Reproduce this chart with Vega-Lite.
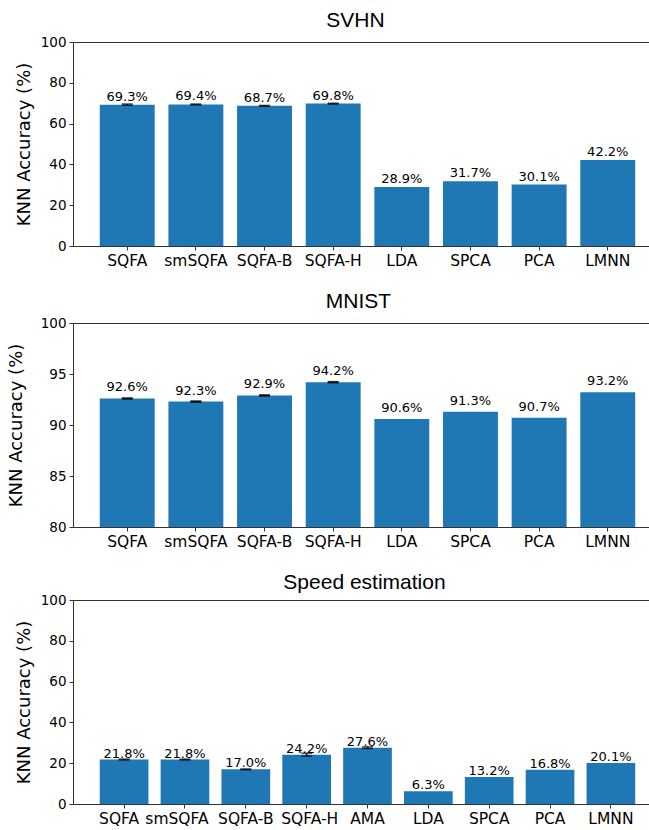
{
  "$schema": "https://vega.github.io/schema/vega-lite/v6.json",
  "padding": {"left": 6, "top": 9, "right": 0, "bottom": 0},
  "spacing": 21,
  "config": {
    "view": {"stroke": "#333", "strokeWidth": 1},
    "axis": {"grid": false, "domain": true, "domainColor": "#333", "domainWidth": 1, "tickColor": "#333", "tickSize": 4, "tickWidth": 1, "labelColor": "#000", "titleColor": "#000", "labelFont": "DejaVu Sans", "titleFont": "DejaVu Sans", "titleFontWeight": "normal", "zindex": 1},
    "title": {"font": "Liberation Sans", "fontSize": 21, "fontWeight": "normal", "color": "#000", "baseline": "alphabetic", "offset": 4}
  },
  "vconcat": [
    {
      "title": {"text": "SVHN", "dx": -12},
      "width": 589, "height": 204,
      "data": {"values": [
        {"method": "SQFA", "acc": 69.3, "lo": 69.0, "hi": 69.6, "label": "69.3%"},
        {"method": "smSQFA", "acc": 69.4, "lo": 69.2, "hi": 69.6, "label": "69.4%"},
        {"method": "SQFA-B", "acc": 68.7, "lo": 68.5, "hi": 68.9, "label": "68.7%"},
        {"method": "SQFA-H", "acc": 69.8, "lo": 69.6, "hi": 70.0, "label": "69.8%"},
        {"method": "LDA", "acc": 28.9, "lo": null, "hi": null, "label": "28.9%"},
        {"method": "SPCA", "acc": 31.7, "lo": null, "hi": null, "label": "31.7%"},
        {"method": "PCA", "acc": 30.1, "lo": null, "hi": null, "label": "30.1%"},
        {"method": "LMNN", "acc": 42.2, "lo": null, "hi": null, "label": "42.2%"}
      ]},
      "encoding": {
        "x": {"field": "method", "type": "nominal", "sort": null, "scale": {"paddingInner": 0.2, "paddingOuter": 0.39}, "axis": {"title": null, "labelAngle": 0, "labelFontSize": 15.5, "labelPadding": 3}}
      },
      "layer": [
        {"mark": {"type": "bar", "color": "#1f77b4"}, "encoding": {"y": {"field": "acc", "type": "quantitative", "scale": {"domain": [0, 100]}, "axis": {"title": "KNN Accuracy (%)", "values": [0, 20, 40, 60, 80, 100], "titleFontSize": 18, "labelFontSize": 13.5, "titlePadding": 7, "labelPadding": 3}}}},
        {"mark": {"type": "rule", "color": "black", "strokeWidth": 1.5}, "encoding": {"y": {"field": "lo", "type": "quantitative"}, "y2": {"field": "hi"}}},
        {"mark": {"type": "tick", "color": "black", "size": 11, "thickness": 1.5}, "encoding": {"y": {"field": "lo", "type": "quantitative"}}},
        {"mark": {"type": "tick", "color": "black", "size": 11, "thickness": 1.5}, "encoding": {"y": {"field": "hi", "type": "quantitative"}}},
        {"mark": {"type": "text", "baseline": "alphabetic", "dy": -4, "fontSize": 13, "font": "DejaVu Sans", "color": "#000"}, "encoding": {"y": {"field": "acc", "type": "quantitative"}, "text": {"field": "label"}}}
      ]
    },
    {
      "title": {"text": "MNIST", "dx": -9},
      "width": 589, "height": 204,
      "data": {"values": [
        {"method": "SQFA", "acc": 92.6, "lo": 92.57, "hi": 92.63, "label": "92.6%"},
        {"method": "smSQFA", "acc": 92.3, "lo": 92.27, "hi": 92.33, "label": "92.3%"},
        {"method": "SQFA-B", "acc": 92.9, "lo": 92.87, "hi": 92.93, "label": "92.9%"},
        {"method": "SQFA-H", "acc": 94.2, "lo": 94.17, "hi": 94.23, "label": "94.2%"},
        {"method": "LDA", "acc": 90.6, "lo": null, "hi": null, "label": "90.6%"},
        {"method": "SPCA", "acc": 91.3, "lo": null, "hi": null, "label": "91.3%"},
        {"method": "PCA", "acc": 90.7, "lo": null, "hi": null, "label": "90.7%"},
        {"method": "LMNN", "acc": 93.2, "lo": null, "hi": null, "label": "93.2%"}
      ]},
      "encoding": {
        "x": {"field": "method", "type": "nominal", "sort": null, "scale": {"paddingInner": 0.2, "paddingOuter": 0.39}, "axis": {"title": null, "labelAngle": 0, "labelFontSize": 15.5, "labelPadding": 3}}
      },
      "layer": [
        {"mark": {"type": "bar", "color": "#1f77b4", "clip": true}, "encoding": {"y": {"field": "acc", "type": "quantitative", "scale": {"domain": [80, 100], "zero": false}, "axis": {"title": "KNN Accuracy (%)", "values": [80, 85, 90, 95, 100], "titleFontSize": 18, "labelFontSize": 13.5, "titlePadding": 15, "labelPadding": 3}}}},
        {"mark": {"type": "rule", "color": "black", "strokeWidth": 1.5}, "encoding": {"y": {"field": "lo", "type": "quantitative"}, "y2": {"field": "hi"}}},
        {"mark": {"type": "tick", "color": "black", "size": 11, "thickness": 2}, "encoding": {"y": {"field": "lo", "type": "quantitative"}}},
        {"mark": {"type": "tick", "color": "black", "size": 11, "thickness": 2}, "encoding": {"y": {"field": "hi", "type": "quantitative"}}},
        {"mark": {"type": "text", "baseline": "alphabetic", "dy": -7, "fontSize": 13, "font": "DejaVu Sans", "color": "#000"}, "encoding": {"y": {"field": "acc", "type": "quantitative"}, "text": {"field": "label"}}}
      ]
    },
    {
      "title": {"text": "Speed estimation", "offset": 0, "dx": -3},
      "width": 589, "height": 204,
      "data": {"values": [
        {"method": "SQFA", "acc": 21.8, "lo": 21.6, "hi": 22.0, "label": "21.8%"},
        {"method": "smSQFA", "acc": 21.8, "lo": 21.6, "hi": 22.0, "label": "21.8%"},
        {"method": "SQFA-B", "acc": 17.0, "lo": 16.8, "hi": 17.2, "label": "17.0%"},
        {"method": "SQFA-H", "acc": 24.2, "lo": 23.5, "hi": 24.9, "label": "24.2%"},
        {"method": "AMA", "acc": 27.6, "lo": 27.2, "hi": 28.0, "label": "27.6%"},
        {"method": "LDA", "acc": 6.3, "lo": null, "hi": null, "label": "6.3%"},
        {"method": "SPCA", "acc": 13.2, "lo": null, "hi": null, "label": "13.2%"},
        {"method": "PCA", "acc": 16.8, "lo": null, "hi": null, "label": "16.8%"},
        {"method": "LMNN", "acc": 20.1, "lo": null, "hi": null, "label": "20.1%"}
      ]},
      "encoding": {
        "x": {"field": "method", "type": "nominal", "sort": null, "scale": {"paddingInner": 0.2, "paddingOuter": 0.44}, "axis": {"title": null, "labelAngle": 0, "labelFontSize": 15.5, "labelPadding": 3, "labelOffset": {"condition": [{"test": "datum.value === 'SQFA'", "value": -5}, {"test": "datum.value === 'smSQFA'", "value": -8}, {"test": "datum.value === 'SQFA-H'", "value": 3}], "value": 0}}}
      },
      "layer": [
        {"mark": {"type": "bar", "color": "#1f77b4"}, "encoding": {"y": {"field": "acc", "type": "quantitative", "scale": {"domain": [0, 100]}, "axis": {"title": "KNN Accuracy (%)", "values": [0, 20, 40, 60, 80, 100], "titleFontSize": 18, "labelFontSize": 13.5, "titlePadding": 7, "labelPadding": 3}}}},
        {"mark": {"type": "rule", "color": "black", "strokeWidth": 1.5}, "encoding": {"y": {"field": "lo", "type": "quantitative"}, "y2": {"field": "hi"}}},
        {"mark": {"type": "tick", "color": "black", "size": 11, "thickness": 1.5}, "encoding": {"y": {"field": "lo", "type": "quantitative"}}},
        {"mark": {"type": "tick", "color": "black", "size": 11, "thickness": 1.5}, "encoding": {"y": {"field": "hi", "type": "quantitative"}}},
        {"mark": {"type": "text", "baseline": "alphabetic", "dy": -2, "fontSize": 13, "font": "DejaVu Sans", "color": "#000"}, "encoding": {"y": {"field": "acc", "type": "quantitative"}, "text": {"field": "label"}}}
      ]
    }
  ]
}
